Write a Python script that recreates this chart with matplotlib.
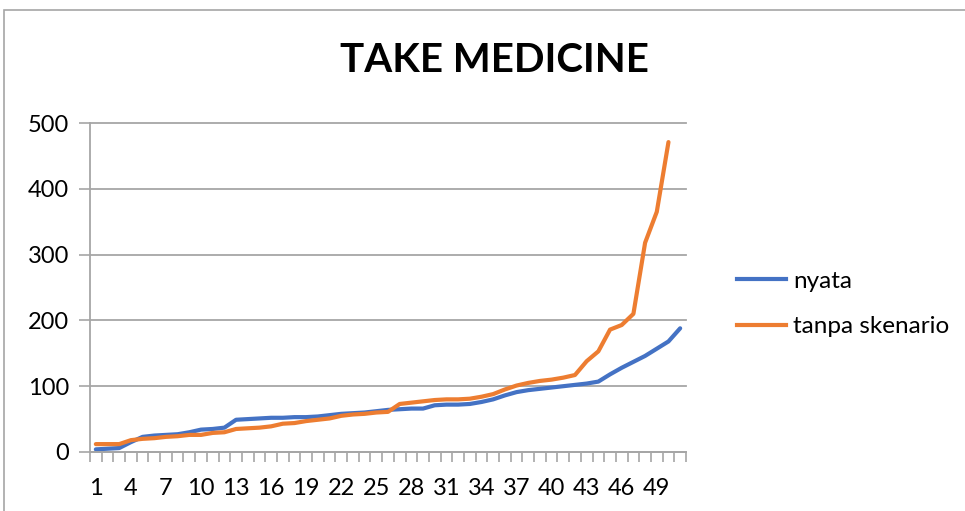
import matplotlib
matplotlib.use("Agg")
import matplotlib.pyplot as plt
from matplotlib.patches import Rectangle
from matplotlib.lines import Line2D

plt.rcParams['font.family'] = ['Lato', 'DejaVu Sans']

categories = list(range(1, 52))
nyata = [4, 5, 6, 15, 23, 25, 26, 27, 30, 34, 35, 37, 49, 50, 51, 52, 52, 53,
         53, 54, 56, 58, 59, 60, 62, 64, 65, 66, 66, 71, 72, 72, 73, 76, 80, 86,
         91, 94, 96, 98, 100, 102, 104, 107, 118, 128, 137, 146, 157, 168, 188]
tanpa_skenario = [12, 12, 12, 18, 20, 21, 23, 24, 26, 26, 29, 30, 35, 36, 37, 39,
                  43, 44, 47, 49, 51, 55, 57, 58, 60, 61, 73, 75, 77, 79, 80, 80,
                  81, 84, 88, 95, 101, 105, 108, 110, 113, 117, 138, 153, 186, 193,
                  210, 318, 365, 471]
tick_labels = [str(c) for c in categories[::3]]
y_ticks = [0, 100, 200, 300, 400, 500]

W, H = 965, 511
fig = plt.figure(figsize=(W / 100, H / 100), dpi=100)

# chart-area frame
fig.add_artist(Rectangle((4 / W, -0.1), 1.2, 1 - 10 / H + 0.1,
                         transform=fig.transFigure, fill=False,
                         edgecolor='#a6a6a6', linewidth=1.2))

ax = fig.add_axes([90 / W, 1 - 452 / H, (686 - 90) / W, (452 - 123) / H])

ax.plot(categories[:len(nyata)], nyata, color='#4472C4', linewidth=3.0,
        solid_capstyle='round', label='nyata')
ax.plot(categories[:len(tanpa_skenario)], tanpa_skenario, color='#ED7D31',
        linewidth=3.0, solid_capstyle='round', label='tanpa skenario')

ax.set_xlim(0.5, len(categories) + 0.5)
ax.set_ylim(0, 500)
ax.set_yticks(y_ticks)
ax.set_yticklabels([str(v) for v in y_ticks])
ax.yaxis.grid(True, color='#a6a6a6', linewidth=1.3)
for gl in ax.get_ygridlines():
    gl.set_clip_on(False)
ax.set_axisbelow(True)

# category boundaries carry the tick marks; labels sit at every third category
ax.set_xticks([c + 0.5 for c in [0] + categories])
ax.set_xticklabels([])
ax.set_xticks(categories[::3], minor=True)
ax.set_xticklabels(tick_labels, minor=True)
ax.tick_params(axis='x', which='major', length=7, width=1.2, color='#a6a6a6',
               direction='out')
ax.tick_params(axis='x', which='minor', length=0, pad=19, labelsize=17)
ax.tick_params(axis='y', length=8, width=1.2, color='#a6a6a6', pad=7,
               labelsize=17)

for side in ('top', 'right'):
    ax.spines[side].set_visible(False)
for side in ('left', 'bottom'):
    ax.spines[side].set_color('#a6a6a6')
    ax.spines[side].set_linewidth(1.3)

fig.text(494 / W, 1 - 61 / H, 'TAKE MEDICINE', ha='center', va='center',
         fontsize=29, fontweight='bold')

handles = [Line2D([], [], color='#4472C4', linewidth=3.0),
           Line2D([], [], color='#ED7D31', linewidth=3.0)]
fig.legend(handles, ['nyata', 'tanpa skenario'], loc='center left',
           bbox_to_anchor=(725 / W, 1 - 304 / H), frameon=False,
           fontsize=17.5, handlelength=2.0, handletextpad=0.3,
           labelspacing=1.0, borderpad=0)

fig.savefig('out.png', dpi=100)
